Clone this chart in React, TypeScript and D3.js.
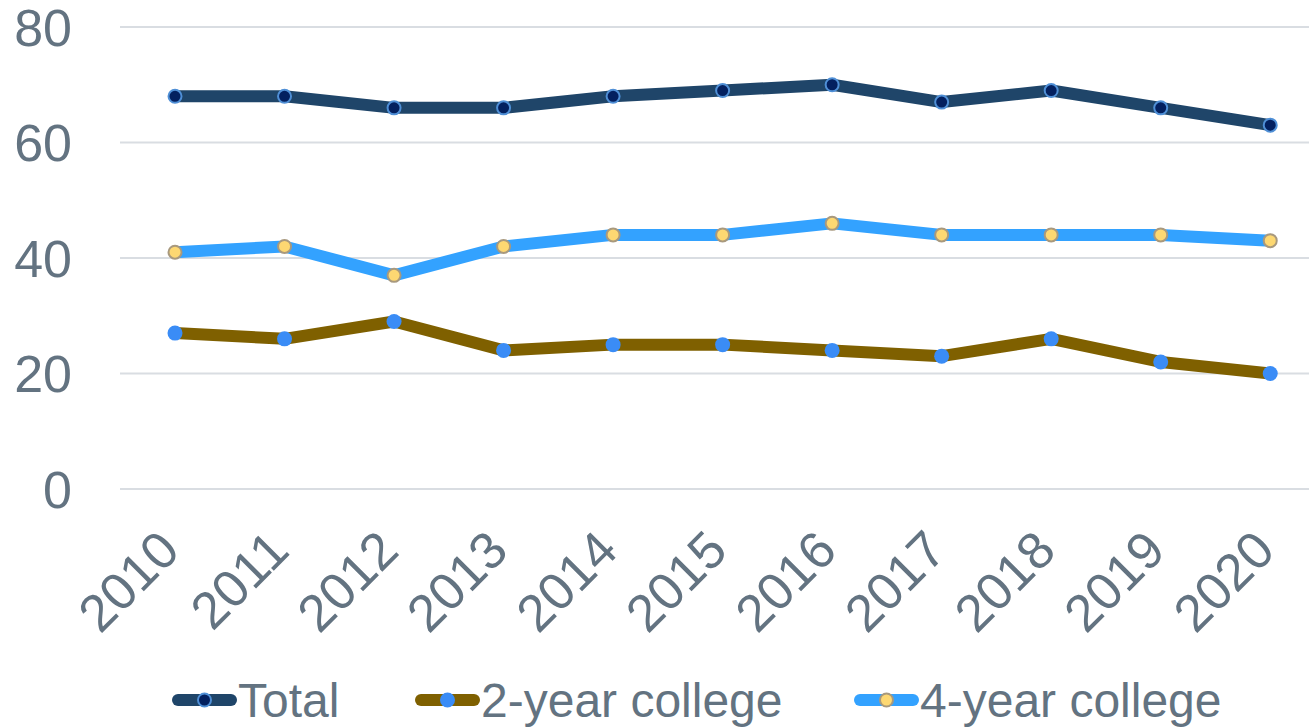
import React from "react";
import * as d3 from "d3";

const years = ["2010","2011","2012","2013","2014","2015","2016","2017","2018","2019","2020"];
const total = [68,68,66,66,68,69,70,67,69,66,63];
const twoYear = [27,26,29,24,25,25,24,23,26,22,20];
const fourYear = [41,42,37,42,44,44,46,44,44,44,43];
const yTicks = [0,20,40,60,80];

const W = 1309, H = 728;
const FONT = "'Liberation Sans', Arial, sans-serif";
const TXT = "#637381";

const series = [
  { name: "Total", values: total, line: "#1f4569", fill: "#03205f", stroke: "#4f8fd6", sw: 2, legendX: 172 },
  { name: "2-year college", values: twoYear, line: "#7f6000", fill: "#3a8cf6", stroke: "#3a8cf6", sw: 0, legendX: 415 },
  { name: "4-year college", values: fourYear, line: "#33a2ff", fill: "#fdd872", stroke: "#a8997e", sw: 2, legendX: 854 },
];

export default function App() {
  const x = d3.scaleBand<string>().domain(years).range([120.25, 1325]);
  const y = d3.scaleLinear().domain([0, 80]).range([489, 27]);
  const cx = (d: string) => (x(d) as number) + x.bandwidth() / 2;
  const line = d3.line<number>().x((_, i) => cx(years[i])).y((v) => y(v));

  return (
    <svg width={W} height={H} style={{ position: "absolute", left: 0, top: 0, background: "#fff" }}>
      {yTicks.map((t) => (
        <g key={t}>
          <line x1={120} x2={W} y1={y(t)} y2={y(t)} stroke="#d9dde2" strokeWidth={2} />
          <text x={72} y={y(t)} dy="0.36em" textAnchor="end" fontFamily={FONT} fontSize={52} fill={TXT}>{t}</text>
        </g>
      ))}
      {years.map((yr) => (
        <text key={yr} transform={`translate(${cx(yr) + 7},${553}) rotate(-45)`} textAnchor="end"
          fontFamily={FONT} fontSize={52} fill={TXT}>{yr}</text>
      ))}
      {series.map((s) => (
        <g key={s.name}>
          <path d={line(s.values) || ""} fill="none" stroke={s.line} strokeWidth={12} strokeLinejoin="round" />
          {s.values.map((v, i) => (
            <circle key={i} cx={cx(years[i])} cy={y(v)} r={s.sw ? 6.5 : 7.5} fill={s.fill} stroke={s.sw ? s.stroke : "none"} strokeWidth={s.sw} />
          ))}
        </g>
      ))}
      {series.map((s) => (
        <g key={"lg" + s.name}>
          <line x1={s.legendX + 6} x2={s.legendX + 59} y1={700} y2={700} stroke={s.line} strokeWidth={12} strokeLinecap="round" />
          <circle cx={s.legendX + 32.5} cy={700} r={s.sw ? 6.5 : 7.5} fill={s.fill} stroke={s.sw ? s.stroke : "none"} strokeWidth={s.sw} />
          <text x={s.legendX + 66} y={700} dy="0.35em" fontFamily={FONT} fontSize={48} fill={TXT}>{s.name}</text>
        </g>
      ))}
    </svg>
  );
}
